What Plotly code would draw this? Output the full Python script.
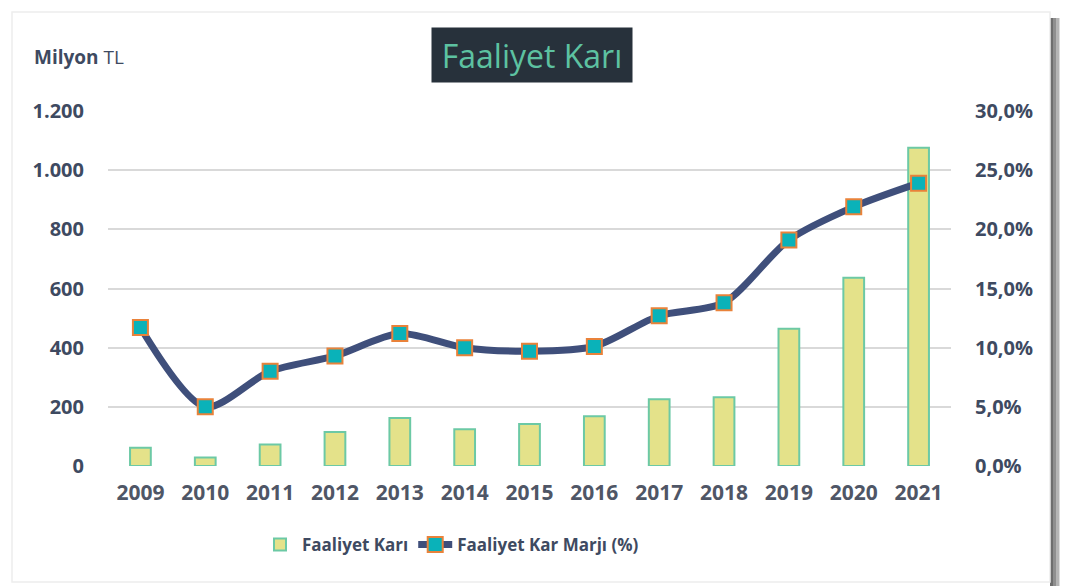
import plotly.graph_objects as go

years = ["2009", "2010", "2011", "2012", "2013", "2014", "2015",
         "2016", "2017", "2018", "2019", "2020", "2021"]
faaliyet_kari = [62, 29, 73, 115, 162, 124, 142, 168, 226, 232, 464, 636, 1076]
kar_marji = [11.7, 5.0, 8.0, 9.3, 11.2, 10.0, 9.7, 10.1, 12.7, 13.8, 19.1, 21.9, 23.9]

W, H = 1068, 586
OFF = 8  # page body margin shifts the figure
L, T = 108 - OFF, 111 - OFF
R, B = W - (951 - OFF), H - (466 - OFF)

TEXT = "#3E4A61"


def px(x):
    # screen pixel x -> paper x
    return (x - OFF - L) / (W - L - R)


def py(y):
    # screen pixel y -> paper y
    return 1 - (y - OFF - T) / (H - T - B)


fig = go.Figure()

fig.add_trace(go.Bar(
    x=years, y=faaliyet_kari, name="<b>Faaliyet Karı</b>",
    marker=dict(color="#E4E28A", line=dict(color="#6CC9A5", width=2)),
    width=0.32,
))

fig.add_trace(go.Scatter(
    x=years, y=[v / 100 for v in kar_marji], name="<b>Faaliyet Kar Marjı (%)</b>",
    yaxis="y2", mode="lines+markers",
    line=dict(color="#3F4F7B", width=7, shape="spline", smoothing=0.8),
    marker=dict(symbol="square", size=15, color="#0AB2B9",
                line=dict(color="#E9823A", width=2)),
))

shapes = []
# card shadow on the right
for x0, x1, c in [(1050, 1053, "#6E6E6E"), (1053, 1056, "#8F8F8F"),
                  (1056, 1059, "#B5B5B5"), (1059, 1062, "#DCDCDC")]:
    shapes.append(dict(type="rect", xref="paper", yref="paper",
                       x0=px(x0), x1=px(x1), y0=py(586), y1=py(18),
                       fillcolor=c, line=dict(width=0), layer="below"))
# card outline
shapes.append(dict(type="rect", xref="paper", yref="paper",
                   x0=px(12), x1=px(1050), y0=py(582), y1=py(12),
                   fillcolor="white", line=dict(color="#EDEDED", width=1.5),
                   layer="below"))

fig.update_layout(
    width=W, height=H,
    margin=dict(l=L, r=R, t=T, b=B, autoexpand=False),
    paper_bgcolor="white", plot_bgcolor="rgba(0,0,0,0)",
    separators=",.",
    font=dict(family="Open Sans", color=TEXT),
    bargap=0.68,
    xaxis=dict(type="category", range=[-0.5, 12.5], showgrid=False,
               ticks="", automargin=False,
               tickfont=dict(size=21, color="#4F5666"),
               tickprefix="<b>", ticksuffix="</b>", ticklabelstandoff=12),
    yaxis=dict(range=[0, 1200], dtick=200, tickformat=",d", automargin=False,
               gridcolor="#D9D9D9", gridwidth=2, zeroline=False,
               tickfont=dict(size=20, color=TEXT), tickprefix="<b>",
               ticksuffix="</b>", ticklabelstandoff=23),
    yaxis2=dict(range=[0, 0.30], dtick=0.05, tickformat=".1%",
                overlaying="y", side="right", showgrid=False, automargin=False,
                zeroline=False, tickfont=dict(size=20, color=TEXT),
                tickprefix="<b>", ticksuffix="</b>", ticklabelstandoff=23),
    legend=dict(orientation="h", x=px(258), xanchor="left", y=py(545),
                yanchor="middle", font=dict(size=17, color=TEXT),
                itemwidth=34, tracegroupgap=0),
    shapes=shapes,
    annotations=[
        dict(text="Faaliyet Karı", xref="paper", yref="paper",
             x=px(532), y=py(55), xanchor="center", yanchor="middle",
             width=190, height=44, borderpad=5,
             showarrow=False, bgcolor="#27313B",
             font=dict(size=32, color="#5DC2A1")),
        dict(text="<b>Milyon</b> TL", xref="paper", yref="paper",
             x=px(32), y=py(57), xanchor="left", yanchor="middle",
             showarrow=False, font=dict(size=19, color=TEXT)),
    ],
)

fig.write_html("out.html")
